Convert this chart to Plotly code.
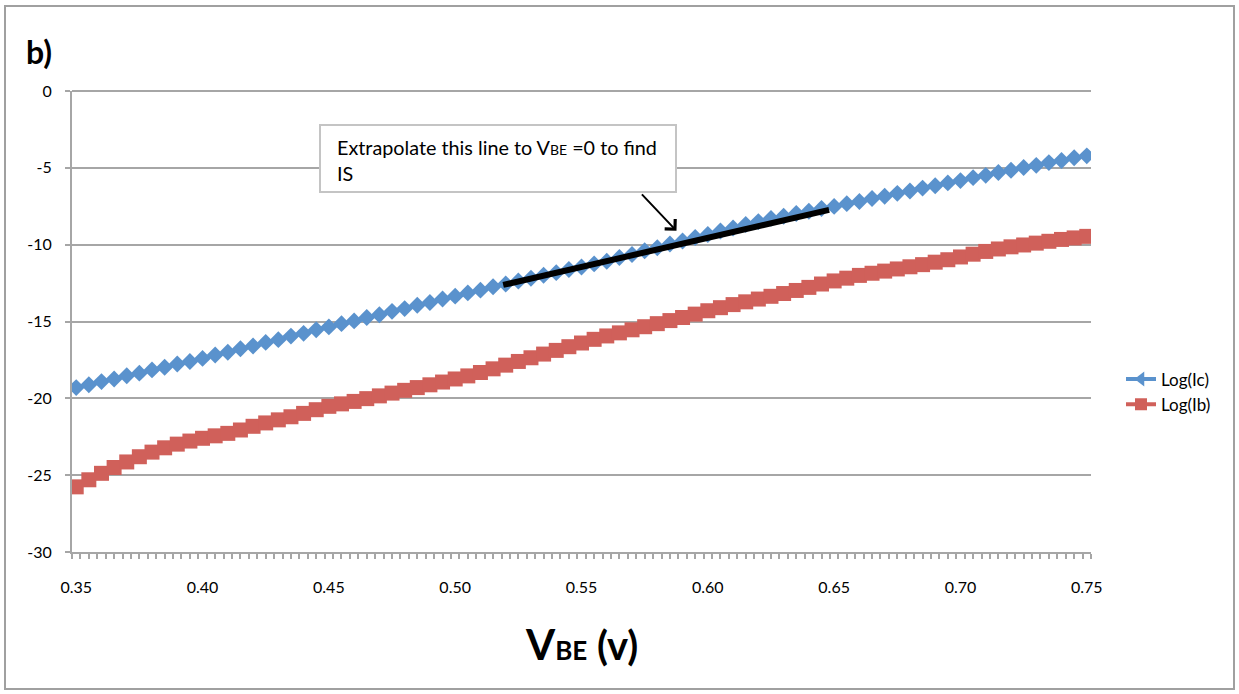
import plotly.graph_objects as go

vbe = [0.350, 0.355, 0.360, 0.365, 0.370, 0.375, 0.380, 0.385, 0.390, 0.395,
       0.400, 0.405, 0.410, 0.415, 0.420, 0.425, 0.430, 0.435, 0.440, 0.445,
       0.450, 0.455, 0.460, 0.465, 0.470, 0.475, 0.480, 0.485, 0.490, 0.495,
       0.500, 0.505, 0.510, 0.515, 0.520, 0.525, 0.530, 0.535, 0.540, 0.545,
       0.550, 0.555, 0.560, 0.565, 0.570, 0.575, 0.580, 0.585, 0.590, 0.595,
       0.600, 0.605, 0.610, 0.615, 0.620, 0.625, 0.630, 0.635, 0.640, 0.645,
       0.650, 0.655, 0.660, 0.665, 0.670, 0.675, 0.680, 0.685, 0.690, 0.695,
       0.700, 0.705, 0.710, 0.715, 0.720, 0.725, 0.730, 0.735, 0.740, 0.745,
       0.750]

log_ic = [-19.30, -19.12, -18.91, -18.74, -18.53, -18.36, -18.15, -17.98, -17.77, -17.60,
          -17.40, -17.18, -17.00, -16.77, -16.59, -16.36, -16.18, -15.95, -15.77, -15.54,
          -15.35, -15.14, -14.96, -14.74, -14.56, -14.34, -14.16, -13.94, -13.76, -13.54,
          -13.35, -13.14, -12.96, -12.74, -12.56, -12.36, -12.19, -11.99, -11.82, -11.62,
          -11.45, -11.25, -11.08, -10.84, -10.64, -10.40, -10.20, -9.96, -9.76, -9.53,
          -9.34, -9.11, -8.92, -8.69, -8.50, -8.29, -8.15, -7.97, -7.83, -7.65,
          -7.51, -7.33, -7.19, -7.00, -6.85, -6.66, -6.51, -6.32, -6.17, -5.98,
          -5.83, -5.64, -5.49, -5.30, -5.16, -4.98, -4.84, -4.66, -4.52, -4.34,
          -4.22]

log_ib = [-25.76, -25.30, -24.88, -24.50, -24.14, -23.80, -23.50, -23.22, -22.98, -22.78,
          -22.60, -22.44, -22.28, -22.06, -21.82, -21.60, -21.40, -21.20, -20.98, -20.74,
          -20.52, -20.36, -20.20, -20.02, -19.84, -19.66, -19.48, -19.30, -19.12, -18.94,
          -18.74, -18.54, -18.32, -18.08, -17.84, -17.60, -17.36, -17.12, -16.88, -16.64,
          -16.40, -16.16, -15.94, -15.74, -15.54, -15.34, -15.14, -14.94, -14.74, -14.52,
          -14.30, -14.10, -13.90, -13.72, -13.54, -13.36, -13.18, -12.98, -12.78, -12.56,
          -12.36, -12.18, -12.00, -11.86, -11.72, -11.58, -11.44, -11.30, -11.14, -10.98,
          -10.80, -10.62, -10.44, -10.28, -10.14, -10.02, -9.90, -9.78, -9.66, -9.56,
          -9.46]

# hand-drawn fit segment
fit_x = [0.519, 0.648]
fit_y = [-12.62, -7.74]

series_names = ["Log(Ic)", "Log(Ib)"]
x_tick_vals = [0.35, 0.40, 0.45, 0.50, 0.55, 0.60, 0.65, 0.70, 0.75]
y_tick_vals = [0, -5, -10, -15, -20, -25, -30]
y_tick_text = ["0", "-5", "-10", "-15", "-20", "-25", "-30"]

BLUE = "#5A92CD"
RED = "#D0605A"
GRID = "#A6A6A6"
FONT = "Lato"

fig = go.Figure()

fig.add_trace(go.Scatter(
    x=vbe, y=log_ic, mode="lines+markers", showlegend=False,
    line=dict(color=BLUE, width=3),
    marker=dict(symbol="diamond", size=13, color=BLUE, line=dict(width=0)),
))
fig.add_trace(go.Scatter(
    x=vbe, y=log_ib, mode="lines+markers", showlegend=False,
    line=dict(color=RED, width=3),
    marker=dict(symbol="square", size=15, color=RED, line=dict(width=0)),
))
fig.add_trace(go.Scatter(
    x=fit_x, y=fit_y, mode="lines", showlegend=False,
    line=dict(color="black", width=6),
))
# legend entries
fig.add_trace(go.Scatter(
    x=[None], y=[None], mode="lines+markers", name=series_names[0],
    line=dict(color=BLUE, width=4),
    marker=dict(symbol="triangle-left", size=13, color=BLUE),
))
fig.add_trace(go.Scatter(
    x=[None], y=[None], mode="lines+markers", name=series_names[1],
    line=dict(color=RED, width=4),
    marker=dict(symbol="square", size=12, color=RED),
))

L, R, T, B = 72, 148, 91, 142
W, H = 1239, 694
pw, ph = W - L - R, H - T - B

def px_x(p):
    return (p - L) / pw

def px_y(p):
    return (H - B - p) / ph

fig.update_layout(
    width=W, height=H,
    margin=dict(l=L, r=R, t=T, b=B, autoexpand=False),
    paper_bgcolor="white", plot_bgcolor="white",
    font=dict(family=FONT, size=16, color="#000000"),
    legend=dict(
        x=px_x(1121), y=px_y(392), xanchor="left", yanchor="middle",
        font=dict(family=FONT, size=17, color="#000000"),
        bgcolor="rgba(0,0,0,0)", tracegroupgap=0, itemwidth=30,
    ),
    xaxis=dict(
        range=[0.35 - 1 / 600, 0.75 + 1 / 600],
        tickvals=x_tick_vals, tickformat=".2f",
        ticks="", showgrid=False, zeroline=False,
        showline=True, linecolor=GRID, linewidth=2,
        ticklabelstandoff=20,
        tickfont=dict(family=FONT, size=16, color="#000000"),
        minor=dict(ticks="outside", ticklen=5, tickwidth=2, tickcolor=GRID,
                   tick0=0.35 - 1 / 600, dtick=1 / 300, showgrid=False),
    ),
    yaxis=dict(
        range=[-30, 0], tickvals=y_tick_vals, ticktext=y_tick_text,
        ticks="outside", ticklen=5, tickwidth=2, tickcolor=GRID,
        showgrid=True, gridcolor=GRID, gridwidth=2, zeroline=False,
        showline=True, linecolor=GRID, linewidth=2,
        ticklabelstandoff=10,
        tickfont=dict(family=FONT, size=16, color="#000000"),
    ),
    shapes=[
        dict(type="rect", xref="paper", yref="paper",
             x0=px_x(5), x1=px_x(1234), y0=px_y(689), y1=px_y(6),
             line=dict(color="#A0A0A0", width=2), fillcolor="rgba(0,0,0,0)",
             layer="below"),
        dict(type="line", xref="paper", yref="paper",
             x0=0, x1=1, y0=1, y1=1, line=dict(color=GRID, width=2)),
        dict(type="rect", xref="paper", yref="paper",
             x0=px_x(320), x1=px_x(676), y0=px_y(192), y1=px_y(125),
             line=dict(color="#C4C4C4", width=2), fillcolor="white",
             layer="above"),
    ],
    annotations=[
        dict(text="<b>b)</b>", xref="paper", yref="paper",
             x=px_x(24), y=px_y(52), xanchor="left", yanchor="middle",
             showarrow=False, font=dict(family=FONT, size=32, color="#000")),
        dict(text="<b><span style='font-size:42px'>V</span>"
                  "<span style='font-size:26px'>BE</span> (v)</b>",
             xref="paper", yref="paper", x=0.5, y=px_y(644),
             xanchor="center", yanchor="middle", showarrow=False,
             font=dict(family=FONT, size=40, color="#000")),
        dict(text="Extrapolate this line to V<span style='font-size:14px'>BE</span> =0 to find<br>IS",
             xref="paper", yref="paper", x=px_x(335), y=px_y(133),
             xanchor="left", yanchor="top", showarrow=False,
             align="left",
             font=dict(family=FONT, size=19.8, color="#000")),
        dict(text="", xref="x", yref="y", x=0.5876, y=-9.1,
             ax=-36, ay=-38, axref="pixel", ayref="pixel",
             showarrow=True, arrowhead=4, arrowsize=1.4, arrowwidth=2,
             arrowcolor="black"),
    ],
)

fig.write_html("out.html", config={"displayModeBar": False},
               post_script="document.body.style.margin='0';")
